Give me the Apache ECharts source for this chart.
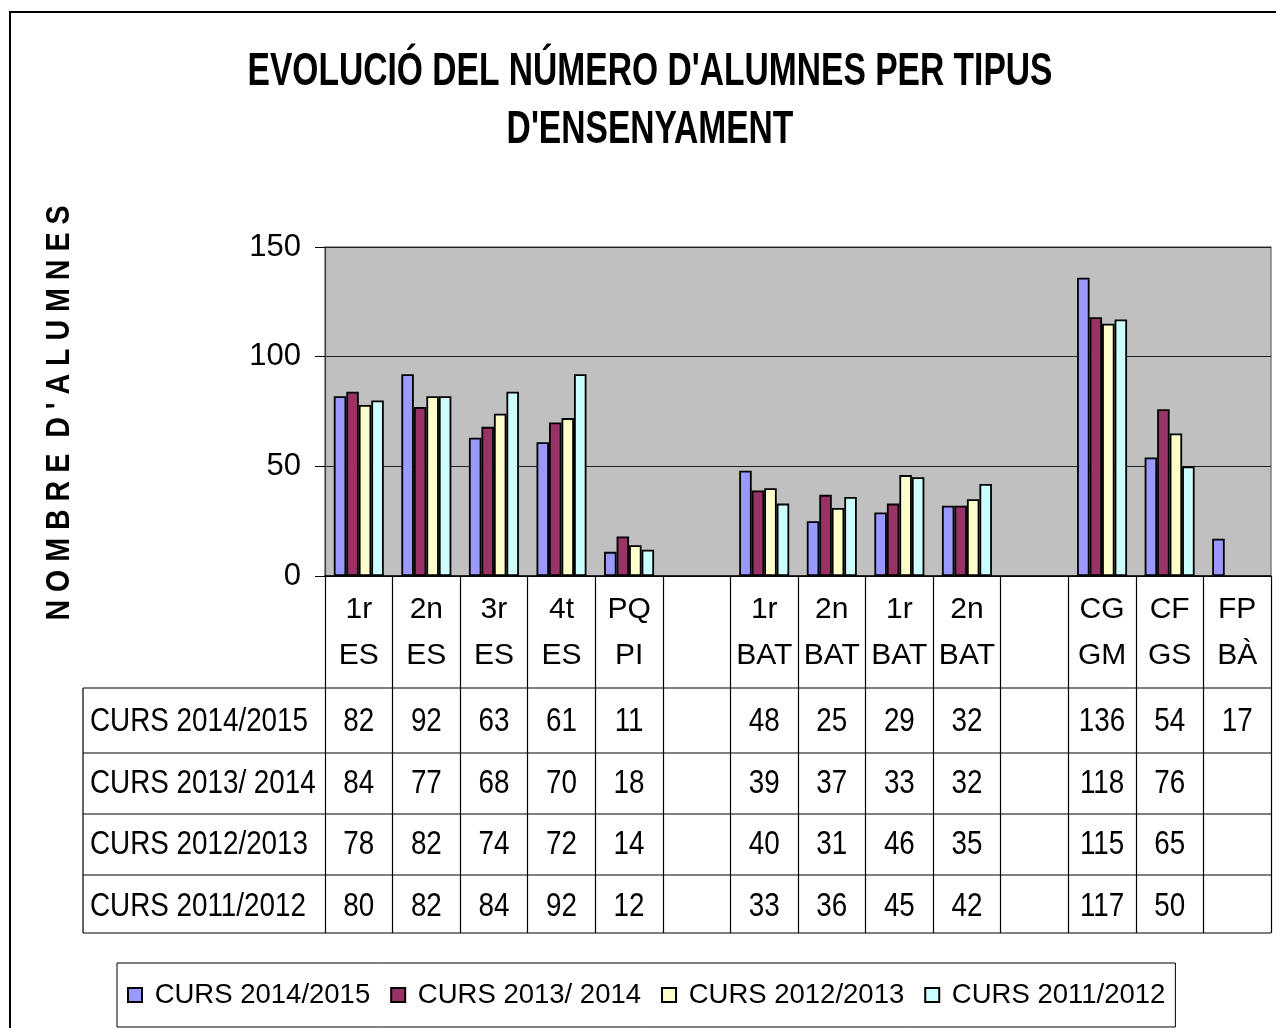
<!DOCTYPE html>
<html><head><meta charset="utf-8">
<script src="https://cdn.jsdelivr.net/npm/echarts@6/dist/echarts.min.js"></script>
<style>html,body{margin:0;padding:0;background:#fff}#c{width:1276px;height:1028px}</style>
</head><body><div id="c"></div>
<script>
// ---- data ----
const categories = ['1r\nES','2n\nES','3r\nES','4t\nES','PQ\nPI','','1r\nBAT','2n\nBAT','1r\nBAT','2n\nBAT','','CG\nGM','CF\nGS','FP\nBÀ'];
const seriesNames = ['CURS 2014/2015','CURS 2013/ 2014','CURS 2012/2013','CURS 2011/2012'];
const curs2014_2015 = [82,92,63,61,11,null,48,25,29,32,null,136,54,17];
const curs2013_2014 = [84,77,68,70,18,null,39,37,33,32,null,118,76,null];
const curs2012_2013 = [78,82,74,72,14,null,40,31,46,35,null,115,65,null];
const curs2011_2012 = [80,82,84,92,12,null,33,36,45,42,null,117,50,null];
const yMin = 0, yMax = 150, yInterval = 50;
const titleLines = ["EVOLUCIÓ DEL NÚMERO D'ALUMNES PER TIPUS", "D'ENSENYAMENT"];
const yAxisTitle = "N O M B R E  D ' A L U M N E S";

// ---- styles ----
const colors = ['#9999FF','#993366','#FFFFCC','#CCFFFF'];
const FONT = "'Liberation Sans', Arial, sans-serif";
const allSeries = [curs2014_2015, curs2013_2014, curs2012_2013, curs2011_2012];

const mctx = document.createElement('canvas').getContext('2d');
function fitScale(text, font, target) { mctx.font = font; return target / mctx.measureText(text).width; }

const chart = echarts.init(document.getElementById('c'), null, {renderer:'canvas'});

const option = {
  animation: false,
  backgroundColor: '#fff',
  color: colors,
  grid: {left: 325, right: 5, top: 247, bottom: 452, show: true,
         backgroundColor: '#C0C0C0', borderColor: '#808080', borderWidth: 1.5},
  xAxis: {
    type: 'category', data: categories,
    axisLine: {show: true, lineStyle: {color: '#000', width: 1.5}},
    axisTick: {show: true, length: 357, lineStyle: {color: '#000', width: 1.2}},
    axisLabel: {interval: 0, margin: 11, fontFamily: FONT, fontSize: 30, lineHeight: 46, color: '#000'},
    splitLine: {show: false}
  },
  yAxis: {
    type: 'value', min: yMin, max: yMax, interval: yInterval,
    axisLine: {show: true, lineStyle: {color: '#404040', width: 1.2}},
    axisTick: {show: true, length: 10, lineStyle: {color: '#000', width: 1}},
    axisLabel: {margin: 24, fontFamily: FONT, fontSize: 31, color: '#000'},
    splitLine: {show: true, lineStyle: {color: '#222', width: 1}}
  },
  legend: {
    left: 117, top: 963, padding: [14, 10, 14, 10],
    itemWidth: 14, itemHeight: 14, itemGap: 20, icon: 'rect',
    borderColor: '#000', borderWidth: 1,
    formatter: n => ' ' + n,
    textStyle: {fontFamily: FONT, fontSize: 27.5, lineHeight: 36, color: '#000'},
    data: seriesNames
  },
  series: seriesNames.map((n, i) => ({
    name: n, type: 'bar', data: allSeries[i],
    barGap: 0, barCategoryGap: '26%',
    itemStyle: {color: colors[i], borderColor: '#000', borderWidth: 1.8}
  }))
};
chart.setOption(option);

// ---- title, axis title, data table ----
const g = [];
g.push({type:'rect', shape:{x:10, y:12, width:1400, height:1200}, style:{fill:'none', stroke:'#000', lineWidth:2}, silent:true});
const titleFont = "bold 46px " + FONT;
const tScale = fitScale(titleLines[0], titleFont, 805);
g.push({type:'text', x:650, y:72, scaleX:tScale, style:{text:titleLines[0], textAlign:'center', textVerticalAlign:'middle', fontFamily:FONT, fontWeight:'bold', fontSize:46, fill:'#000'}});
g.push({type:'text', x:650, y:130, scaleX:tScale, style:{text:titleLines[1], textAlign:'center', textVerticalAlign:'middle', fontFamily:FONT, fontWeight:'bold', fontSize:46, fill:'#000'}});
const yFont = "bold 34px " + FONT;
const yScale = fitScale(yAxisTitle, yFont, 415);
g.push({type:'text', x:60, y:413, rotation:Math.PI/2, scaleX:yScale, style:{text:yAxisTitle, textAlign:'center', textVerticalAlign:'middle', fontFamily:FONT, fontWeight:'bold', fontSize:34, fill:'#000'}});

const tableLeft = 83, tableRight = 1271;
const rowLines = [688, 753, 814, 875, 933];
rowLines.forEach(y => g.push({type:'line', shape:{x1:tableLeft, y1:y, x2:tableRight, y2:y}, style:{stroke:'#000', lineWidth:1.2}}));
g.push({type:'line', shape:{x1:tableLeft, y1:rowLines[0], x2:tableLeft, y2:rowLines[4]}, style:{stroke:'#000', lineWidth:1.2}});
const rowCenters = [722, 784, 845, 907];
const cellFont = "34px " + FONT;
const cScale = fitScale(seriesNames[0], cellFont, 218);
seriesNames.forEach((n, r) => {
  g.push({type:'text', x:90, y:rowCenters[r], scaleX:cScale, style:{text:n, textAlign:'left', textVerticalAlign:'middle', fontFamily:FONT, fontSize:34, fill:'#000'}});
  allSeries[r].forEach((v, i) => {
    if (v == null) return;
    const x = chart.convertToPixel({xAxisIndex:0}, i);
    g.push({type:'text', x:x, y:rowCenters[r], scaleX:cScale, style:{text:String(v), textAlign:'center', textVerticalAlign:'middle', fontFamily:FONT, fontSize:34, fill:'#000'}});
  });
});
chart.setOption({graphic: g});
</script></body></html>
